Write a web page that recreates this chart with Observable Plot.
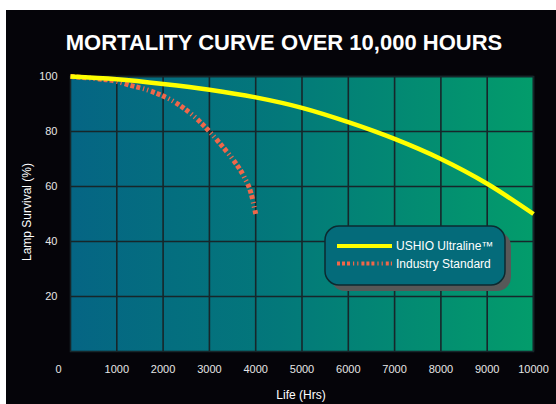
<!DOCTYPE html>
<html>
<head>
<meta charset="utf-8">
<script src="https://cdn.jsdelivr.net/npm/d3@7"></script>
<script src="https://cdn.jsdelivr.net/npm/@observablehq/plot@0.6"></script>
<style>
  html, body { margin: 0; padding: 0; background: #ffffff; }
  #chart { position: absolute; left: 6px; top: 10px; width: 550px; height: 394px; background: #050409; }
  svg { display: block; }
</style>
</head>
<body>
<div id="chart"></div>
<script>
const title = "MORTALITY CURVE OVER 10,000 HOURS";
const xLabel = "Life (Hrs)";
const yLabel = "Lamp Survival (%)";
const seriesNames = ["USHIO Ultraline™", "Industry Standard"];
const xTicks = [1000, 2000, 3000, 4000, 5000, 6000, 7000, 8000, 9000, 10000];
const yTicks = [20, 40, 60, 80, 100];

const ushioHours = [0, 1000, 2000, 3000, 4000, 5000, 6000, 7000, 8000, 9000, 10000];
const ushioSurvival = [100, 99.0, 97.3, 95.2, 92.4, 88.6, 83.4, 77.3, 70.0, 61.0, 50.0];

const industryHours = [0, 500, 1000, 1250, 1750, 2250, 2650, 3000, 3250, 3500, 3750, 3900, 4000];
const industrySurvival = [100, 99.3, 98.2, 97.0, 94.6, 90.7, 85.8, 80.0, 75.2, 70.0, 63.5, 57.5, 50.0];

const ushio = ushioHours.map((h, i) => ({hours: h, survival: ushioSurvival[i]}));
const industry = industryHours.map((h, i) => ({hours: h, survival: industrySurvival[i]}));

const gridColor = "#17262a";
const tickColor = "#e6e6e6";
const font = "Liberation Sans, Arial, sans-serif";

const chart = Plot.plot({
  width: 550,
  height: 394,
  marginLeft: 64,
  marginRight: 23,
  marginTop: 66,
  marginBottom: 53,
  style: {background: "transparent", fontFamily: font},
  x: {domain: [0, 10000]},
  y: {domain: [0, 100]},
  marks: [
    Plot.gridX(xTicks, {stroke: gridColor, strokeOpacity: 1, strokeWidth: 1.6}),
    Plot.gridY(yTicks, {stroke: gridColor, strokeOpacity: 1, strokeWidth: 1.6}),
    Plot.frame({stroke: gridColor, strokeWidth: 1.6}),
    Plot.axisX(xTicks, {tickSize: 0, tickPadding: 14, fill: tickColor, fontSize: 11, label: null, tickFormat: d => String(d)}),
    Plot.axisX([0], {tickSize: 0, tickPadding: 14, fill: tickColor, fontSize: 11, label: null, dx: -12, tickFormat: d => String(d)}),
    Plot.axisY(yTicks, {tickSize: 0, tickPadding: 13, fill: tickColor, fontSize: 11, label: null}),
    Plot.line(industry, {x: "hours", y: "survival", curve: "monotone-x", stroke: "#f0674a", strokeWidth: 5, strokeDasharray: "4,2,4,2,4,3,1.2,3,1.2,3", strokeLinecap: "butt"}),
    Plot.line(ushio, {x: "hours", y: "survival", curve: "monotone-x", stroke: "#ffff00", strokeWidth: 4.5, strokeLinecap: "butt"})
  ]
});

document.getElementById("chart").appendChild(chart);

const svg = d3.select(chart);
const defs = svg.insert("defs", ":first-child");
const grad = defs.append("linearGradient").attr("id", "bg").attr("x1", "0").attr("y1", "0").attr("x2", "1").attr("y2", "0");
grad.append("stop").attr("offset", "0").attr("stop-color", "#056584");
grad.append("stop").attr("offset", "0.45").attr("stop-color", "#03787a");
grad.append("stop").attr("offset", "1").attr("stop-color", "#039c6b");

const [x0, x1] = [64, 550 - 23];
const [y0, y1] = [66, 394 - 53];
svg.insert("rect", "defs + *")
  .attr("x", x0).attr("y", y0).attr("width", x1 - x0).attr("height", y1 - y0)
  .attr("fill", "url(#bg)");

// Title
svg.append("text")
  .attr("x", 278).attr("y", 40)
  .attr("text-anchor", "middle")
  .attr("fill", "#ffffff")
  .attr("font-family", font)
  .attr("font-weight", "bold")
  .attr("font-size", 22)
  .text(title);

// Axis labels
svg.append("text")
  .attr("x", 295).attr("y", 389)
  .attr("text-anchor", "middle")
  .attr("fill", "#ffffff")
  .attr("font-family", font)
  .attr("font-size", 12)
  .text(xLabel);
svg.append("text")
  .attr("transform", "translate(25,202) rotate(-90)")
  .attr("text-anchor", "middle")
  .attr("fill", "#ffffff")
  .attr("font-family", font)
  .attr("font-size", 12)
  .text(yLabel);

// Legend
const lg = svg.append("g").attr("text-anchor", "start");
lg.append("rect").attr("x", 325).attr("y", 222).attr("width", 180).attr("height", 59).attr("rx", 14)
  .attr("fill", "#585858");
lg.append("rect").attr("x", 319).attr("y", 216).attr("width", 180).attr("height", 59).attr("rx", 14)
  .attr("fill", "#046b7a").attr("stroke", "#0c2a30").attr("stroke-width", 1.5);
lg.append("line").attr("x1", 331).attr("x2", 386).attr("y1", 236).attr("y2", 236)
  .attr("stroke", "#ffff00").attr("stroke-width", 4);
lg.append("line").attr("x1", 331).attr("x2", 386).attr("y1", 253.5).attr("y2", 253.5)
  .attr("stroke", "#f0674a").attr("stroke-width", 4).attr("stroke-dasharray", "3,2,3,2,3,3,1.2,3,1.2,3");
lg.append("text").attr("x", 390).attr("y", 240).attr("fill", "#ffffff").attr("text-anchor", "start")
  .attr("font-family", font).attr("font-size", 12).text(seriesNames[0]);
lg.append("text").attr("x", 390).attr("y", 258).attr("fill", "#ffffff").attr("text-anchor", "start")
  .attr("font-family", font).attr("font-size", 12).text(seriesNames[1]);
</script>
</body>
</html>
